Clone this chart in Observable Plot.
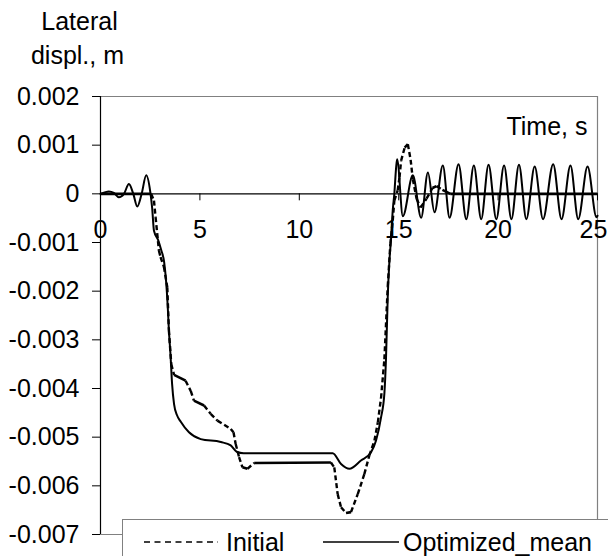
<!DOCTYPE html>
<html>
<head>
<meta charset="utf-8">
<script src="https://cdn.jsdelivr.net/npm/d3@7"></script>
<script src="https://cdn.jsdelivr.net/npm/@observablehq/plot@0.6"></script>
<style>
  body { margin: 0; background: white; color: black; font-family: "Liberation Sans", Arial, sans-serif; }
  #wrap { position: relative; width: 608px; height: 556px; overflow: hidden; }
  #legend { position: absolute; left: 122px; top: 519px; width: 520px; height: 60px; background: white; border: 1px solid #808080; box-sizing: border-box; }
</style>
</head>
<body>
<div id="wrap">
  <div id="chart"></div>
  <div id="legend"></div>
</div>
<script>
// ---- data ----
const seriesNames = ["Initial", "Optimized_mean"];

const initTime = [0, 2.55, 2.69, 2.77, 2.94, 3.02, 3.19, 3.36, 3.44, 3.56, 3.7, 4.28, 4.54, 4.7, 5.21, 5.54, 5.88, 6.55, 6.69, 6.8, 6.97, 7.14, 7.39, 7.73, 11.59, 11.76, 11.93, 12.1, 12.35, 12.6, 12.94, 13.27, 13.52, 13.78, 13.95, 14.11, 14.28, 14.45, 14.58, 14.7, 14.78, 14.95, 15.04, 15.12, 15.3, 15.46, 15.6, 15.71, 15.9, 16.1, 16.4, 16.7, 16.9, 17.2, 17.6, 25];
const initDispl = [0, 0, -0.00014, -0.00048, -0.00117, -0.0013, -0.0015, -0.00192, -0.0028, -0.0035, -0.00372, -0.00384, -0.00405, -0.00425, -0.00435, -0.00452, -0.00466, -0.00483, -0.0049, -0.00514, -0.00541, -0.00562, -0.00565, -0.00553, -0.00552, -0.00562, -0.00617, -0.00644, -0.00656, -0.00654, -0.00617, -0.00576, -0.00538, -0.00507, -0.0047, -0.0042, -0.0034, -0.0019, -0.00103, -0.00055, -0.00014, 0.00007, 0.00034, 0.00068, 0.00095, 0.00102, 0.0007, 0.0003, -0.0001, -0.00028, -0.0001, 0.00012, 0.00016, 0.00008, 0, 0];

const optTime = [0, 0.42, 0.67, 0.92, 1.18, 1.43, 1.65, 1.85, 2.07, 2.3, 2.5, 2.6, 2.69, 2.9, 3.05, 3.2, 3.3, 3.38, 3.44, 3.52, 3.6, 3.7, 3.85, 4.03, 4.45, 5.04, 6.05, 6.55, 6.85, 7.2, 11.68, 12.1, 12.52, 13.1, 13.61, 13.86, 14.11, 14.28, 14.36, 14.45, 14.53, 14.62, 14.7, 14.78, 14.87, 14.92, 15.21, 15.71, 16.13, 16.47, 16.8, 17.22, 17.56, 18.01, 18.4, 18.78, 19.15, 19.52, 19.91, 20.3, 20.67, 21.05, 21.42, 21.84, 22.26, 22.77, 23.19, 23.64, 24.03, 24.5, 24.95, 25];
const optDispl = [0, 0.00005, 0.00002, -0.00007, 0, 0.0002, 0, -0.00026, 0, 0.00038, 0.00005, -0.0003, -0.00076, -0.00095, -0.00115, -0.0014, -0.0018, -0.0023, -0.0028, -0.0033, -0.0039, -0.00432, -0.00455, -0.00468, -0.0049, -0.00504, -0.0051, -0.00517, -0.0053, -0.00533, -0.00533, -0.00555, -0.00565, -0.00548, -0.00531, -0.00507, -0.0046, -0.0041, -0.0034, -0.0021, -0.0014, -0.0009, -0.00034, 0, 0.00054, 0.00071, -0.00046, 0.00038, -0.00049, 0.00044, -0.00038, 0.00058, -0.00049, 0.00061, -0.00052, 0.00058, -0.00052, 0.0006, -0.00052, 0.00058, -0.00052, 0.0006, -0.00052, 0.00056, -0.00052, 0.00061, -0.00052, 0.00058, -0.00052, 0.00056, -0.00048, -0.00045];

const xTicks = [0, 5, 10, 15, 20, 25];
const xTickLabels = ["0", "5", "10", "15", "20", "25"];
const yTicks = [0.002, 0.001, 0, -0.001, -0.002, -0.003, -0.004, -0.005, -0.006, -0.007];
const yTickLabels = ["0.002", "0.001", "0", "-0.001", "-0.002", "-0.003", "-0.004", "-0.005", "-0.006", "-0.007"];
const yTitleLines = ["Lateral", "displ., m"];
const xTitle = "Time, s";

// ---- build tables ----
const optData = optTime.map((t, i) => ({t, v: optDispl[i]}));
const initSegs = initTime.slice(1).map((t, i) => ({
  t1: initTime[i], v1: initDispl[i], t2: t, v2: initDispl[i + 1]
}));
const isFlat = s => Math.abs(s.v2 - s.v1) / Math.abs(s.t2 - s.t1) < 0.00025;
const flatSegs = initSegs.filter(isFlat);
const steepSegs = initSegs.filter(s => !isFlat(s));
const xLabelData = xTicks.map((t, i) => ({t, label: xTickLabels[i]}));
const lastLabel = xLabelData.slice(-1);
const innerLabels = xLabelData.slice(0, -1);

const FONT = 25;
const chart = Plot.plot({
  width: 608,
  height: 556,
  marginLeft: 100,
  marginRight: 11,
  marginTop: 96,
  marginBottom: 22,
  style: {fontFamily: '"Liberation Sans", Arial, sans-serif', fontSize: FONT + "px", background: "white", color: "black", overflow: "visible"},
  x: {domain: [0, 25], axis: null},
  y: {domain: [-0.007, 0.002], axis: null},
  marks: [
    // frame
    Plot.ruleY([0.002], {stroke: "#808080", strokeWidth: 1.2}),
    Plot.ruleX([25], {stroke: "#808080", strokeWidth: 1.2}),
    Plot.ruleY([-0.007], {stroke: "#808080", strokeWidth: 1.2}),
    Plot.ruleX([0], {stroke: "black", strokeWidth: 1.2}),
    // y axis
    Plot.axisY({ticks: yTicks, tickSize: 8, tickPadding: 13, fontSize: FONT,
      tickFormat: d => yTickLabels[yTicks.indexOf(d)], stroke: "black"}),
    // x axis along zero
    Plot.ruleY([0], {stroke: "black", strokeWidth: 1.2}),
    Plot.ruleX(xTicks, {x: d => d, y1: 0, y2: 0, insetBottom: -7, stroke: "black"}),
    Plot.text(innerLabels, {x: "t", y: () => 0, text: "label", dy: 36, fontSize: FONT, fill: "black"}),
    Plot.text(lastLabel, {x: "t", y: () => 0, text: "label", dy: 36, dx: -4, fontSize: FONT, fill: "black"}),
    // titles
    Plot.text([xTitle], {frameAnchor: "top-right", textAnchor: "end", lineAnchor: "middle", dx: -10, dy: 30, fontSize: FONT, fill: "black"}),
    Plot.text([yTitleLines[0]], {frameAnchor: "top-left", textAnchor: "middle", lineAnchor: "middle", dx: -21, dy: -75, fontSize: FONT, fill: "black"}),
    Plot.text([yTitleLines[1]], {frameAnchor: "top-left", textAnchor: "middle", lineAnchor: "middle", dx: -23, dy: -41, fontSize: FONT, fill: "black"}),
    // Initial (dashed where steep, dense/solid-looking where flat)
    Plot.link(flatSegs, {x1: "t1", y1: "v1", x2: "t2", y2: "v2", stroke: "black", strokeWidth: 2.6, strokeLinecap: "butt"}),
    Plot.link(steepSegs, {x1: "t1", y1: "v1", x2: "t2", y2: "v2", stroke: "black", strokeWidth: 2.4, strokeDasharray: "5,3"}),
    // Optimized_mean
    Plot.line(optData, {x: "t", y: "v", curve: "monotone-x", stroke: "black", strokeWidth: 2})
  ]
});
document.getElementById("chart").appendChild(chart);

// legend (drawn with d3)
const leg = d3.select("#legend").append("svg").attr("width", 520).attr("height", 60)
  .style("font-family", '"Liberation Sans", Arial, sans-serif').style("font-size", FONT + "px");
const legendItems = [
  {name: seriesNames[0], x1: 21, x2: 95, tx: 103, dash: "6,4.5", w: 1.5},
  {name: seriesNames[1], x1: 200, x2: 276, tx: 280, dash: null, w: 1.5}
];
legendItems.forEach(it => {
  const ln = leg.append("line").attr("x1", it.x1).attr("x2", it.x2).attr("y1", 22).attr("y2", 22)
    .attr("stroke", "black").attr("stroke-width", it.w);
  if (it.dash) ln.attr("stroke-dasharray", it.dash);
  leg.append("text").attr("x", it.tx).attr("y", 31).attr("fill", "black").text(it.name);
});
</script>
</body>
</html>
